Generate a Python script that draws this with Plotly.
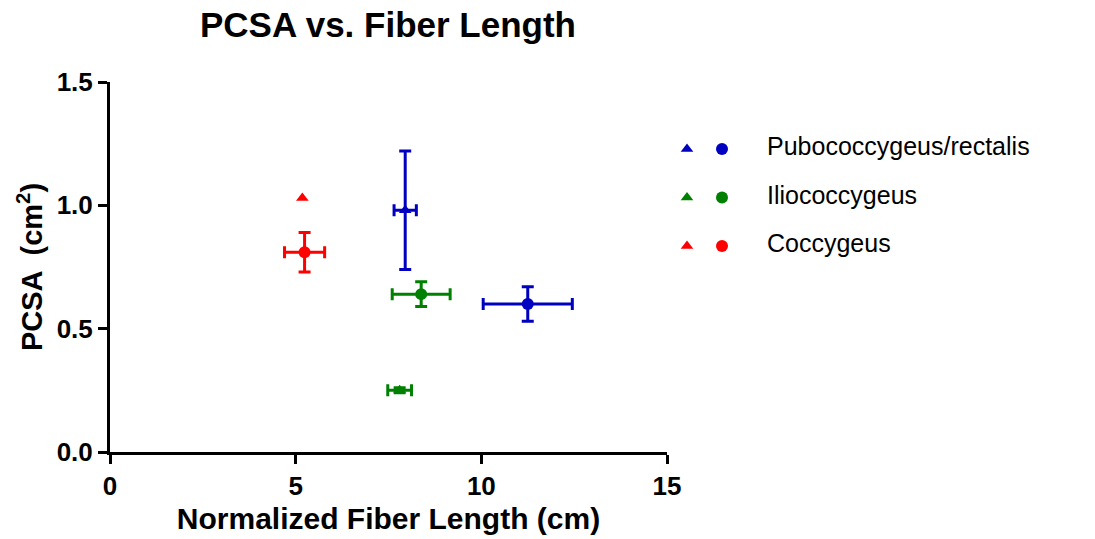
import plotly.graph_objects as go

# ---- data ----
muscles = ["Pubococcygeus/rectalis", "Iliococcygeus", "Coccygeus"]
colors = ["#0000C0", "#008000", "#FF0000"]

# triangle series
tri_x = [7.95, 7.8, 5.18]
tri_x_err = [0.3, 0.32, 0.0]
tri_y = [0.98, 0.25, 1.03]
tri_y_err = [0.24, 0.01, 0.0]

# circle series
cir_x = [11.25, 8.38, 5.24]
cir_x_err = [1.2, 0.78, 0.54]
cir_y = [0.60, 0.64, 0.81]
cir_y_err = [0.07, 0.05, 0.08]

x_ticks = [0, 5, 10, 15]
y_ticks = [0.0, 0.5, 1.0, 1.5]
y_tick_labels = ["0.0", "0.5", "1.0", "1.5"]

legend_rows = [0, 1, 2]

FONT = "Arial, Liberation Sans, sans-serif"

fig = go.Figure()

for i, m in enumerate(muscles):
    c = colors[i]
    fig.add_trace(go.Scatter(
        x=[cir_x[i]], y=[cir_y[i]], mode="markers",
        marker=dict(symbol="circle", size=12, color=c),
        error_x=dict(type="data", array=[cir_x_err[i]], color=c, thickness=3, width=6),
        error_y=dict(type="data", array=[cir_y_err[i]], color=c, thickness=3, width=6),
        showlegend=False, hoverinfo="skip"))
    fig.add_trace(go.Scatter(
        x=[tri_x[i]], y=[tri_y[i]], mode="markers",
        marker=dict(symbol="triangle-up", size=11, color=c),
        error_x=dict(type="data", array=[tri_x_err[i]], color=c, thickness=3, width=6,
                     visible=tri_x_err[i] > 0),
        error_y=dict(type="data", array=[tri_y_err[i]], color=c, thickness=3, width=6,
                     visible=tri_y_err[i] > 0),
        showlegend=False, hoverinfo="skip"))

# custom legend on a hidden axis
for i, m in enumerate(muscles):
    fig.add_trace(go.Scatter(
        x=[687], y=[legend_rows[i]], mode="markers", xaxis="x2", yaxis="y2",
        marker=dict(symbol="triangle-up", size=11, color=colors[i]),
        showlegend=False, hoverinfo="skip"))
    fig.add_trace(go.Scatter(
        x=[722], y=[legend_rows[i]], mode="markers", xaxis="x2", yaxis="y2",
        marker=dict(symbol="circle", size=12, color=colors[i]),
        showlegend=False, hoverinfo="skip"))
fig.add_trace(go.Scatter(
    x=[767] * len(muscles), y=legend_rows, mode="text", xaxis="x2", yaxis="y2",
    text=muscles, textposition="middle right",
    textfont=dict(family=FONT, size=25, color="black"),
    showlegend=False, hoverinfo="skip"))

L, R = 110, 20
W, H = 1095, 539
pw = W - L - R
main_end = (667 - L) / pw

fig.update_layout(
    width=W, height=H,
    margin=dict(l=L, r=R, t=82, b=87),
    paper_bgcolor="white", plot_bgcolor="white",
    font=dict(family=FONT, color="black"),
    title=dict(text="<b>PCSA vs. Fiber Length</b>", x=388 / W, xanchor="center",
               y=1 - 25 / H, yanchor="middle", font=dict(size=35, family=FONT, color="black")),
    xaxis=dict(domain=[0, main_end], range=[0, 15], tickvals=x_ticks,
               ticktext=[f"<b>{t}</b>" for t in x_ticks], automargin=False,
               showline=True, linecolor="black", linewidth=3,
               ticks="outside", ticklen=9, tickwidth=3, tickcolor="black",
               showgrid=False, zeroline=False,
               tickfont=dict(size=26, family=FONT, color="black"),
               title=dict(text="<b>Normalized Fiber Length (cm)</b>",
                          font=dict(size=30, family=FONT, color="black"), standoff=8)),
    yaxis=dict(domain=[0, 1], range=[0, 1.5], tickvals=y_ticks,
               ticktext=[f"<b>{t}</b>" for t in y_tick_labels], automargin=False,
               showline=True, linecolor="black", linewidth=3,
               ticks="outside", ticklen=9, tickwidth=3, tickcolor="black",
               showgrid=False, zeroline=False,
               tickfont=dict(size=26, family=FONT, color="black"),
               title=dict(text="<b>PCSA  (cm<sup>2</sup>)</b>",
                          font=dict(size=29, family=FONT, color="black"), standoff=6)),
    xaxis2=dict(domain=[main_end, 1], range=[667, W - R], visible=False,
                anchor="y2", fixedrange=True),
    yaxis2=dict(domain=[0, 1], range=[6.25, -1.38], visible=False,
                anchor="x2", fixedrange=True),
)

fig.write_html("out.html")
